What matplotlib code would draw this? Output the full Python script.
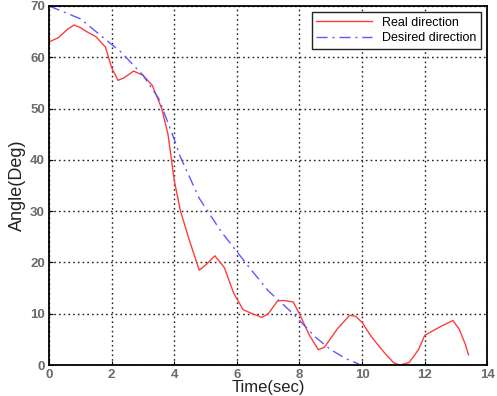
import matplotlib.pyplot as plt

# Real direction (red)
real_t = [0.0, 0.3, 0.6, 0.8, 1.0, 1.2, 1.5, 1.8, 2.0, 2.2, 2.4, 2.7, 3.0, 3.3, 3.6, 3.8, 4.0,
          4.2, 4.5, 4.8, 5.0, 5.3, 5.6, 5.9, 6.2, 6.5, 6.8, 7.0, 7.3, 7.5, 7.8, 8.0, 8.3,
          8.6, 8.8, 9.2, 9.6, 9.8, 10.0, 10.3, 10.7, 11.0, 11.2, 11.5, 11.8, 12.0, 12.5,
          12.9, 13.1, 13.3, 13.4]
real_a = [63.0, 63.8, 65.5, 66.3, 65.8, 65.0, 64.0, 62.0, 58.0, 55.5, 56.0, 57.3, 56.5, 54.5,
          50.0, 45.0, 36.0, 30.0, 24.0, 18.5, 19.5, 21.3, 19.0, 14.0, 10.8, 10.0, 9.3, 10.0,
          12.5, 12.6, 12.3, 10.0, 6.0, 3.0, 3.5, 7.0, 9.7, 9.5, 8.3, 5.5, 2.5, 0.5, 0.0,
          0.5, 3.0, 5.8, 7.5, 8.7, 7.0, 4.0, 2.0]

# Desired direction (blue)
des_t = [0.0, 1.0, 2.0, 2.3, 3.0, 3.5, 4.0, 4.2, 4.8, 5.5, 6.4, 7.0, 7.8, 8.5, 9.0, 9.5, 9.9]
des_a = [70.0, 67.5, 62.5, 61.0, 56.5, 52.0, 44.0, 40.5, 32.5, 26.0, 19.0, 14.5, 10.0, 5.5,
         3.0, 1.2, 0.2]

plt.rcParams['font.family'] = ['Liberation Sans', 'DejaVu Sans']

fig = plt.figure(figsize=(4.97, 3.96), dpi=100)
ax = fig.add_axes([0.0986, 0.078, 0.882, 0.907])

ax.plot(real_t, real_a, color='#ff3c3c', lw=1.0, label='Real direction')
ax.plot(des_t, des_a, color='#5a5aff', lw=1.0, ls=(0, (8, 3.5, 1.5, 3.5)), label='Desired direction')

ax.set_xlim(0, 14)
ax.set_ylim(0, 70)
ax.set_xticks(range(0, 15, 2))
ax.set_yticks(range(0, 71, 10))
ax.grid(True, color='#222222', ls=(0, (1.2, 2.2)), lw=1.0)
ax.tick_params(direction='in', labelsize=9.5, labelcolor='#6a6a6a', length=3, pad=3)
for lbl in ax.get_xticklabels() + ax.get_yticklabels():
    lbl.set_fontweight('bold')
for s in ax.spines.values():
    s.set_linewidth(1.3)

ax.set_ylabel('Angle(Deg)', fontsize=13, labelpad=3, color='#222222')
ax.set_xlabel('Time(sec)', fontsize=12, color='#222222', va='bottom')
ax.xaxis.set_label_coords(0.5, -0.083)

leg = ax.legend(loc='upper right', fontsize=9, fancybox=False, framealpha=1,
                edgecolor='#222222', borderaxespad=0.5, handlelength=4.5,
                borderpad=0.35, labelspacing=0.3)
leg.get_frame().set_linewidth(1.0)

fig.savefig('out.png', dpi=100)
